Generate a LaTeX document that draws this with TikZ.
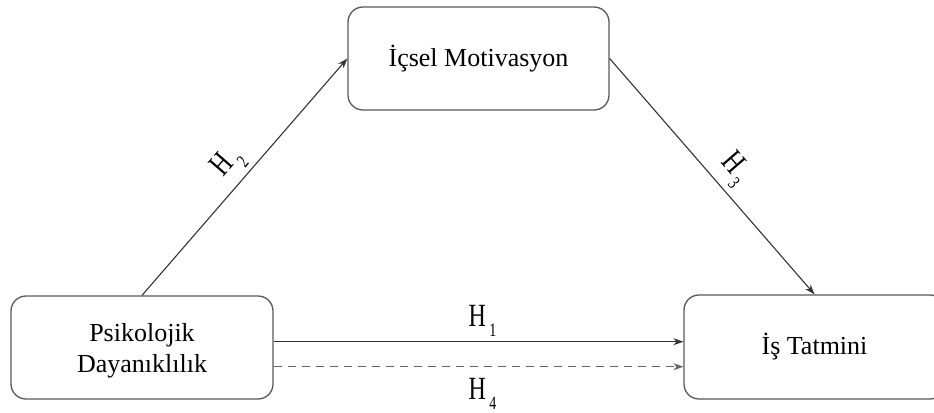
\documentclass[tikz,border=0pt]{standalone}
\usepackage{fontspec}
\setmainfont{Liberation Serif}
\usetikzlibrary{arrows.meta,calc}
\newcommand\hlab[1]{\fontsize{24bp}{28bp}\selectfont\scalebox{1}[1.35]{H\kern3.5bp\raisebox{-7.4bp}{\fontsize{14bp}{14bp}\selectfont #1}}}
\tikzset{
  boxnode/.style={draw=black!65, line width=1.3bp, rounded corners=15bp, fill=white,
    align=center, font=\fontsize{26bp}{31bp}\selectfont, inner sep=0pt},
  conn/.style={draw=black!80, line width=1.1bp, -{Stealth[length=10bp,width=7bp]}},
  dconn/.style={conn, draw=black!60, dash pattern=on 8bp off 6bp},
  slab/.style={midway, sloped, anchor=south, inner sep=5bp},
}
\begin{document}
\begin{tikzpicture}[x=1bp,y=1bp]
\useasboundingbox (0,0) rectangle (934,412);
\node[boxnode, minimum width=261bp, minimum height=103bp] (M) at (478.5,353.5) {İçsel Motivasyon};
\node[boxnode, minimum width=262bp, minimum height=103bp, text depth=-6bp] (P) at (142,64.5) {Psikolojik\\Dayanıklılık};
\node[boxnode, minimum width=261bp, minimum height=104bp] (S) at (814.5,65) {İş Tatmini};
\coordinate (a1) at ($(P.east)+(0,5.8)$);
\coordinate (a4) at ($(P.east)+(0,-19.2)$);
\draw[conn] (P.north) -- (M.west) node[slab] {\hlab{2}};
\draw[conn] (M.east) -- (S.north) node[slab, pos=0.53] {\hlab{3}};
\draw[conn] (a1) -- (a1 -| S.west) node[midway, anchor=south, inner xsep=0pt, inner ysep=4.5bp, xshift=4bp] {\hlab{1}};
\draw[dconn] (a4) -- (a4 -| S.west) node[midway, anchor=north, inner xsep=0pt, inner ysep=11bp, xshift=4bp] {\hlab{4}};
\end{tikzpicture}
\end{document}
